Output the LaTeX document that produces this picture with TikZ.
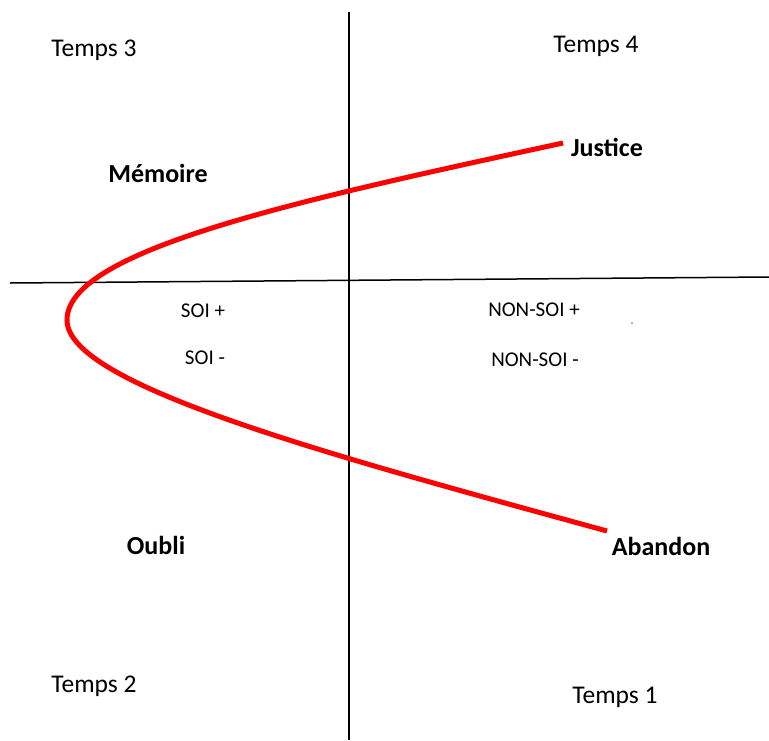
\documentclass[tikz,border=0pt]{standalone}
\usepackage{fontspec}
\setmainfont{Carlito}
\begin{document}
\begin{tikzpicture}[x=1pt,y=-1pt,
  lbl/.style={inner sep=0pt, font=\fontsize{25.5}{30}\selectfont},
  blbl/.style={inner sep=0pt, font=\fontsize{26}{30}\selectfont\bfseries},
  slbl/.style={inner sep=0pt, font=\fontsize{21}{25}\selectfont},
  axis/.style={line width=1.5pt, black},
  path/.style={line width=5pt, red, line cap=butt}]
\useasboundingbox (0,0) rectangle (769,740);
\coordinate (vt) at (349,12);
\coordinate (vb) at (349,740);
\coordinate (hl) at (10,283);
\coordinate (hr) at (769,277);
\coordinate (cj) at (563,143);
\coordinate (cv) at (67,320);
\coordinate (ca) at (607,531);
\draw[axis] (vt) -- (vb);
\draw[axis] (hl) -- (hr);
\draw[path] (cj) .. controls (300,200) and (67,250) .. (cv)
                 .. controls (67,385) and (330,455) .. (ca);
\node[lbl] (t3) at (94,50) {Temps 3};
\node[lbl] (t4) at (596,46) {Temps 4};
\node[lbl] (t2) at (94,686) {Temps 2};
\node[lbl] (t1) at (615,697) {Temps 1};
\node[blbl] (jus) at (607,147) {Justice};
\node[blbl] (mem) at (158,173) {Mémoire};
\node[blbl] (oub) at (156,545) {Oubli};
\node[blbl] (aba) at (661,546) {Abandon};
\node[slbl] (sp) at (203,311) {SOI +};
\node[slbl] (sm) at (205,358) {SOI -};
\node[slbl] (nsp) at (534,310) {NON-SOI +};
\node[slbl] (nsm) at (535,360) {NON-SOI -};
\fill[black!60] (632,323) circle (0.8);
\end{tikzpicture}
\end{document}
